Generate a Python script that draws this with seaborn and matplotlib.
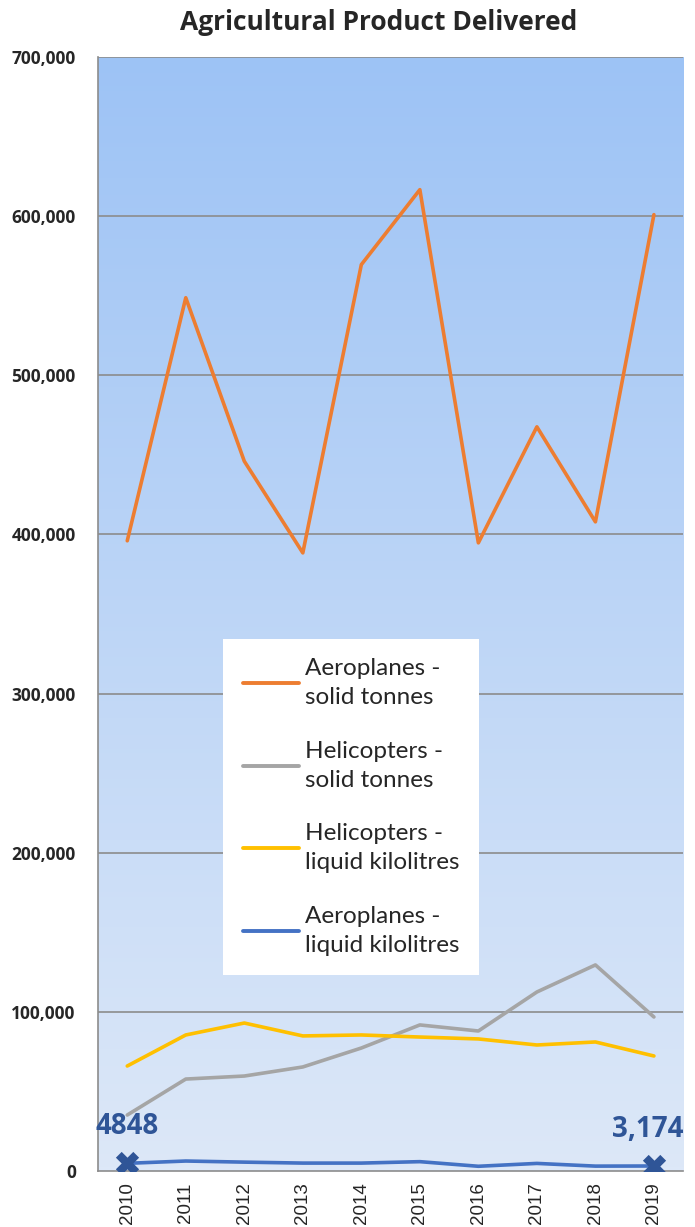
import numpy as np
import pandas as pd
import matplotlib
matplotlib.use("Agg")
import matplotlib.pyplot as plt
import seaborn as sns
from matplotlib.colors import LinearSegmentedColormap

# --- data ---
years = [2010, 2011, 2012, 2013, 2014, 2015, 2016, 2017, 2018, 2019]
aero_solid = [396000, 548700, 446000, 388400, 569500, 616600, 394700, 467600, 407900, 600900]
heli_solid = [35200, 57800, 59700, 65400, 77300, 91800, 88000, 112500, 129500, 96800]
heli_liquid = [66000, 85500, 93000, 84900, 85500, 84200, 83000, 79200, 81100, 72300]
aero_liquid = [4848, 6300, 5600, 5000, 5000, 5900, 3000, 4800, 3100, 3174]

series_names = ["Aeroplanes -\nsolid tonnes", "Helicopters -\nsolid tonnes",
                "Helicopters -\nliquid kilolitres", "Aeroplanes -\nliquid kilolitres"]
series_colors = ["#ED7D31", "#A5A5A5", "#FFC000", "#4472C4"]

df = pd.DataFrame({
    "year": years * 4,
    "value": aero_solid + heli_solid + heli_liquid + aero_liquid,
    "series": np.repeat(series_names, len(years)),
})

sns.set_style("white")
plt.rcParams['font.family'] = ['Lato', 'DejaVu Sans']
BOLD = ['Open Sans', 'DejaVu Sans']

fig = plt.figure(figsize=(6.95, 12.27), dpi=100)
ax = fig.add_axes([0.141, 0.0456, 0.842, 0.908])

# gradient background
cmap = LinearSegmentedColormap.from_list("bg", ["#DDE8F8", "#9DC3F5"])
grad = np.linspace(0, 1, 256).reshape(-1, 1)
ax.imshow(grad, aspect="auto", cmap=cmap, origin="lower",
          extent=[2009.5, 2019.5, 0, 700000], zorder=0)

ax.set_ylim(0, 700000)
ax.set_xlim(2009.5, 2019.5)
ax.set_yticks(range(0, 700001, 100000))
for yv in range(100000, 700001, 100000):
    ax.axhline(yv, color="#8C8C8C", lw=1.2, zorder=1)

sns.lineplot(data=df, x="year", y="value", hue="series", hue_order=series_names,
             palette=series_colors, linewidth=2.6, ax=ax, zorder=3, sort=False)

# endpoint markers on liquid aeroplanes
ax.scatter([years[0], years[-1]], [aero_liquid[0], aero_liquid[-1]], marker="X",
           s=280, color="#2F5597", zorder=4, linewidths=0)
ax.text(years[0], aero_liquid[0] + 14000, "4848", color="#2F5597", fontsize=20,
        fontweight="bold", family=BOLD, ha="center", va="bottom")
ax.text(years[-1] - 0.1, aero_liquid[-1] + 14000, f"{aero_liquid[-1]:,}", color="#2F5597",
        fontsize=20, fontweight="bold", family=BOLD, ha="center", va="bottom")

ax.set_xticks(years)
ax.set_xticklabels([str(y) for y in years], rotation=90, fontsize=13.5,
                   family=['Liberation Sans', 'DejaVu Sans'])
ax.set_yticklabels([f"{v:,}" for v in range(0, 700001, 100000)], fontsize=12.5,
                   fontweight="bold", family=BOLD)
ax.tick_params(axis="y", length=6, color="#8C8C8C", direction="out", pad=10)
ax.set_xticks(np.arange(2009.5, 2020, 1), minor=True)
ax.tick_params(axis="x", which="minor", length=6, color="#8C8C8C", direction="out")
ax.tick_params(axis="x", which="major", length=0, pad=8)
ax.set_xlabel("")
ax.set_ylabel("")

for side in ["top", "right"]:
    ax.spines[side].set_visible(False)
for side in ["left", "bottom"]:
    ax.spines[side].set_color("#8C8C8C")
    ax.spines[side].set_linewidth(1.2)

leg = ax.legend(loc="lower left", bbox_to_anchor=(0.214, 0.176), fontsize=17.5,
                frameon=True, fancybox=False, framealpha=1, edgecolor="white",
                handlelength=2.3, handletextpad=0.25, labelspacing=1.35, borderpad=0.8,
                borderaxespad=0)
leg.get_frame().set_linewidth(0)
for line in leg.get_lines():
    line.set_linewidth(2.8)
for t in leg.get_texts():
    t.set_linespacing(1.45)

fig.text(0.545, 0.982, "Agricultural Product Delivered", fontsize=19, fontweight="bold",
         family=BOLD, ha="center", va="center")

fig.savefig("out.png", dpi=100)
